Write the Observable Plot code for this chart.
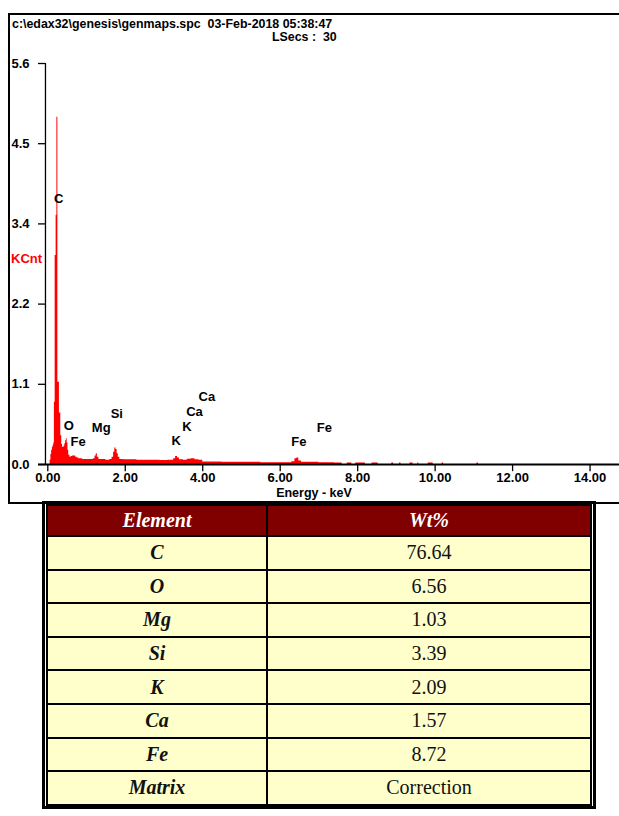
<!DOCTYPE html>
<html><head><meta charset="utf-8">
<script src="https://cdn.jsdelivr.net/npm/d3@7"></script>
<script src="https://cdn.jsdelivr.net/npm/@observablehq/plot@0.6"></script>
<style>
body{margin:0;background:#fff;width:619px;height:816px;position:relative;overflow:hidden;font-family:"Liberation Sans",Arial,sans-serif}
#frame{position:absolute;left:8px;top:13px;width:640px;height:487px;border:2px solid #000;border-right:none;box-sizing:content-box}
.hdr{position:absolute;font:bold 12.4px "Liberation Sans",Arial,sans-serif;color:#000;white-space:pre;line-height:14px}
#chart{position:absolute;left:0;top:0}
#ylab{position:absolute;left:11px;top:252px;font:bold 13px "Liberation Sans",Arial,sans-serif;color:#ff0000;line-height:14px}
#xlab{position:absolute;left:264px;top:487px;width:100px;text-align:center;font:bold 12.5px "Liberation Sans",Arial,sans-serif;line-height:13px}
#tblwrap{position:absolute;left:42px;top:501px;width:546px;border:3px solid #000;padding:0 1px;background:#fff}
table{width:100%;border-collapse:collapse}
td,th{border:2px solid #000;text-align:center;font-family:"Liberation Serif","Times New Roman",serif;font-size:20px;padding:0;color:#111}
th{background:#800000;color:#fff;font-weight:bold;font-style:italic;height:29px}
td{background:#ffffcc;height:31.6px}
td.el{font-weight:bold;font-style:italic;width:218px}
</style>
</head><body>
<div id="frame"></div>
<div class="hdr" style="left:12px;top:17px">c:\edax32\genesis\genmaps.spc  03-Feb-2018 05:38:47</div>
<div class="hdr" style="left:272px;top:30px">LSecs :  30</div>
<div id="chart"></div>
<div id="ylab">KCnt</div>
<div id="xlab">Energy - keV</div>
<div id="tblwrap"></div>
<script>
// Spectrum (energy keV, KCnt)
const specE = [0.00,0.06,0.08,0.10,0.12,0.14,0.155,0.17,0.19,0.215,0.235,0.26,0.30,0.335,0.36,0.38,0.40,0.42,0.44,0.46,0.48,0.50,0.52,0.54,0.57,0.60,0.64,0.68,0.72,0.76,0.80,0.90,1.00,1.10,1.18,1.22,1.25,1.28,1.32,1.40,1.50,1.60,1.66,1.70,1.73,1.76,1.79,1.82,1.86,1.95,2.10,2.30,2.60,2.90,3.10,3.25,3.30,3.35,3.40,3.50,3.60,3.70,3.80,3.90,4.00,4.50,5.00,5.50,6.00,6.30,6.38,6.43,6.48,6.55,7.00,7.40,7.60,7.73,7.85,7.95,8.20,8.37,8.53,8.88,8.93,9.08,9.12,9.35,9.43,9.55,9.58,9.82,9.95,10.18,10.22,11.08,11.12];
const specK = [0.00,0.06,0.14,0.20,0.24,0.27,0.30,0.87,2.92,3.48,4.85,1.15,0.72,0.40,0.28,0.24,0.24,0.26,0.29,0.33,0.36,0.30,0.20,0.13,0.10,0.11,0.12,0.12,0.10,0.09,0.08,0.07,0.07,0.07,0.08,0.12,0.15,0.10,0.07,0.07,0.06,0.07,0.10,0.17,0.23,0.21,0.15,0.10,0.07,0.065,0.065,0.06,0.06,0.055,0.06,0.08,0.11,0.09,0.065,0.06,0.075,0.08,0.065,0.06,0.035,0.03,0.03,0.025,0.025,0.04,0.08,0.09,0.05,0.03,0.025,0.02,0.0,0.02,0.0,0.02,0.0,0.02,0.0,0.02,0.0,0.02,0.0,0.02,0.0,0.02,0.0,0.02,0.0,0.02,0.0,0.02,0.0];

const yTicks = [0, 1.12, 2.24, 3.36, 4.48, 5.6];
const xTicks = [0, 2, 4, 6, 8, 10, 12, 14];

// Peak markers: line energy, label height (KCnt), element
const lineE = [0.277, 0.525, 0.705, 1.253, 1.740, 3.313, 3.590, 3.690, 4.010, 6.400, 7.060];
const lineY = [3.71, 0.545, 0.32, 0.51, 0.71, 0.325, 0.53, 0.73, 0.94, 0.31, 0.51];
const lineName = ["C", "O", "Fe", "Mg", "Si", "K", "K", "Ca", "Ca", "Fe", "Fe"];

// Quantification table
const elements = ["C", "O", "Mg", "Si", "K", "Ca", "Fe", "Matrix"];
const wtPct = ["76.64", "6.56", "1.03", "3.39", "2.09", "1.57", "8.72", "Correction"];

const spectrum = specE.map((e, i) => ({e, k: specK[i]}));
const peaks = lineE.map((e, i) => ({e, y: lineY[i], name: lineName[i]}));

const plot = Plot.plot({
  width: 619, height: 505,
  marginLeft: 38, marginRight: 0, marginTop: 63, marginBottom: 41,
  x: {domain: [-0.24, 14.76], axis: null},
  y: {domain: [0, 5.6], axis: null},
  style: {background: "transparent", overflow: "visible", fontFamily: "Liberation Sans, Arial, sans-serif"},
  marks: [
    Plot.areaY(spectrum, {x: "e", y: "k", curve: "step-after", fill: "#ff0000"}),
    Plot.ruleY([0], {x1: -0.24, x2: 14.76, stroke: "#000", strokeWidth: 2}),
    Plot.ruleX([-0.06], {y1: 0, y2: 5.6, stroke: "#000", strokeWidth: 1.3}),
    Plot.ruleY(yTicks, {x1: -0.24, x2: -0.06, y: d => d, stroke: "#000", strokeWidth: 1.3}),
    Plot.text(yTicks, {x: -0.24, y: d => d, text: d => d.toFixed(1), textAnchor: "start", dx: -27, fontWeight: "bold", fontSize: 13, fill: "#000"}),
    Plot.ruleX(xTicks, {x: d => d, y1: 0, y2: -0.1, stroke: "#000", strokeWidth: 1.3}),
    Plot.text(xTicks, {x: d => d, y: 0, text: d => d.toFixed(2), dy: 13.5, fontWeight: "bold", fontSize: 13, fill: "#000"}),
    Plot.text(peaks, {x: "e", y: "y", text: "name", textAnchor: "start", dx: -4.5, fontWeight: "bold", fontSize: 13, fill: "#000"})
  ]
});
document.getElementById("chart").appendChild(plot);

const table = d3.select("#tblwrap").append("table");
const hr = table.append("tr");
hr.append("th").text("Element");
hr.append("th").text("Wt%");
elements.forEach((el, i) => {
  const tr = table.append("tr");
  tr.append("td").attr("class", "el").text(el);
  tr.append("td").text(wtPct[i]);
});
</script>
</body></html>
